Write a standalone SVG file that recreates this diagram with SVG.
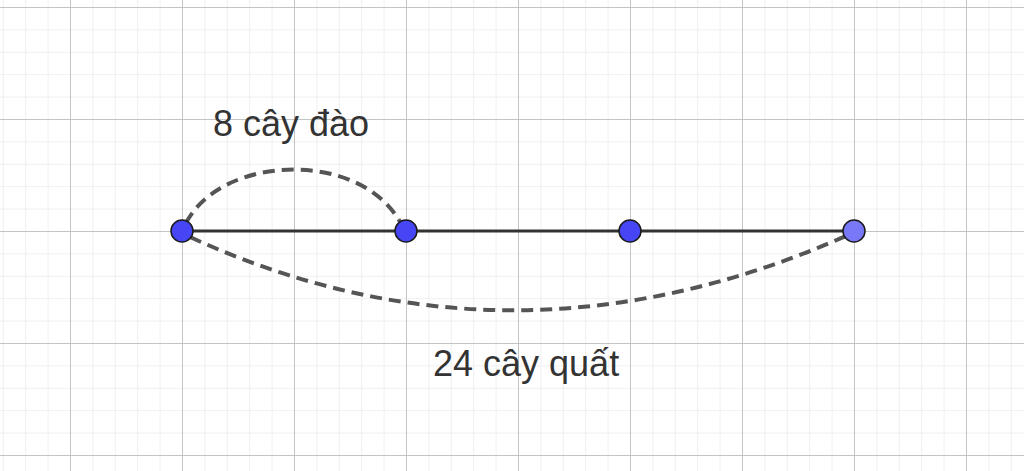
<svg xmlns="http://www.w3.org/2000/svg" width="1024" height="471" viewBox="0 0 1024 471">
<defs>
<pattern id="minor" x="70" y="7" width="22.4" height="22.4" patternUnits="userSpaceOnUse">
<path d="M0,0 H22.4 M0,0 V22.4" fill="none" stroke="#ebebeb" stroke-width="1.5"/>
</pattern>
<pattern id="major" x="70" y="7" width="112" height="112" patternUnits="userSpaceOnUse">
<path d="M0,0 H112 M0,0 V112" fill="none" stroke="#c4c4c4" stroke-width="2"/>
</pattern>
</defs>
<style>
.pt{stroke:#1a1a1a;stroke-width:1.5}
.dash{fill:none;stroke:#555;stroke-width:4;stroke-dasharray:12 7}
.lbl{font-family:"Liberation Sans",Arial,sans-serif;font-size:36px;fill:#333}
</style>
<rect width="1024" height="471" fill="#fff"/>
<rect width="1024" height="471" fill="url(#minor)"/>
<rect width="1024" height="471" fill="url(#major)"/>
<g id="connectors">
<line x1="182" y1="231" x2="854" y2="231" stroke="#333" stroke-width="3"/>
<path class="dash" d="M186,223 C222,154 360,150 400,222"/>
<path class="dash" d="M190,237 Q510,384 846,236"/>
</g>
<g id="A"><circle class="pt" cx="182" cy="231" r="11" fill="#4646f5"/></g>
<g id="B"><circle class="pt" cx="406" cy="231" r="11" fill="#4646f5"/></g>
<g id="C"><circle class="pt" cx="630" cy="231" r="11" fill="#4646f5"/></g>
<g id="D"><circle class="pt" cx="854" cy="231" r="11" fill="#7878f8"/></g>
<g id="label-dao"><text class="lbl" x="213" y="136">8 cây đào</text></g>
<g id="label-quat"><text class="lbl" x="433" y="376">24 cây quất</text></g>
</svg>
